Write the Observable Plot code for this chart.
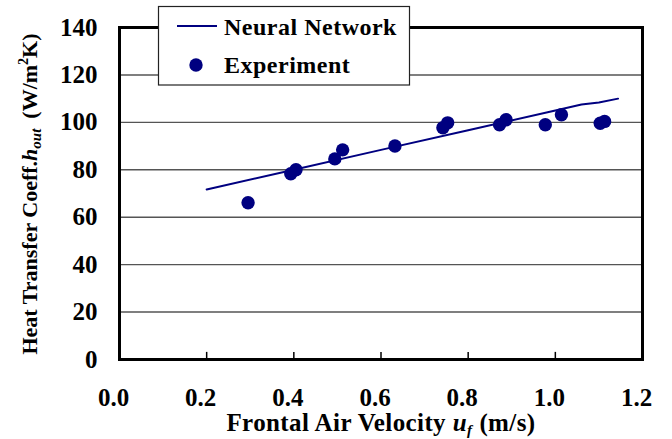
<!DOCTYPE html>
<html><head><meta charset="utf-8">
<script src="https://cdn.jsdelivr.net/npm/d3@7"></script>
<script src="https://cdn.jsdelivr.net/npm/@observablehq/plot@0.6"></script>
<style>body{margin:0;background:#fff} svg{display:block}</style>
</head><body><div id="chart"></div>
<script>
// Neural network prediction (line)
const nnVelocity = [0.2, 0.4, 0.6, 0.8, 1.0, 1.06, 1.10, 1.144];
const nnCoeff    = [71.7, 80.0, 88.4, 96.7, 105.0, 107.5, 108.4, 110.0];
// Experiment (dots)
const expVelocity = [0.295, 0.393, 0.405, 0.494, 0.512, 0.632, 0.742, 0.753, 0.872, 0.887, 0.977, 1.014, 1.103, 1.113];
const expCoeff    = [66.1, 78.3, 80.0, 84.6, 88.4, 90.0, 97.7, 99.8, 99.0, 101.1, 99.0, 103.2, 99.6, 100.4];
// Axes
const xTicks = [0, 0.2, 0.4, 0.6, 0.8, 1.0, 1.2];
const xInnerTicks = [0.2, 0.4, 0.6, 0.8, 1.0];
const yTicks = [0, 20, 40, 60, 80, 100, 120, 140];
const seriesNames = ["Neural Network", "Experiment"];

const nn = nnVelocity.map((v, i) => ({x: v, y: nnCoeff[i]}));
const exp = expVelocity.map((v, i) => ({x: v, y: expCoeff[i]}));

const font = "Liberation Serif, DejaVu Serif, Times New Roman, serif";
const navy = "#000080";

const plot = Plot.plot({
  width: 672, height: 439,
  marginLeft: 119, marginRight: 30, marginTop: 27, marginBottom: 80,
  style: {fontFamily: font, fontWeight: "bold", fontSize: "24px", background: "white", color: "black"},
  x: {domain: [0, 1.2], label: null},
  y: {domain: [0, 140], label: null},
  marks: [
    Plot.ruleY(yTicks.slice(1, -1), {stroke: "#555", strokeWidth: 1.4}),
    Plot.ruleX(xInnerTicks, {y1: 0, y2: 3, stroke: "black", strokeWidth: 1.5}),
    Plot.line(nn, {x: "x", y: "y", stroke: navy, strokeWidth: 2}),
    Plot.dot(exp, {x: "x", y: "y", r: 6.7, fill: navy, stroke: null}),
    Plot.frame({stroke: "black", strokeWidth: 3}),
    Plot.axisX({ticks: xTicks, tickSize: 0, tickPadding: 29, dx: -6, tickFormat: d3.format(".1f"), label: null, fontSize: 25, fontFamily: font, fontWeight: "bold"}),
    Plot.axisY({ticks: yTicks, tickSize: 0, tickPadding: 22, label: null, fontSize: 25, fontFamily: font, fontWeight: "bold"})
  ]
});

const svg = d3.select(plot);
const g = svg.append("g").attr("font-family", font).attr("font-weight", "bold").attr("fill", "black");

// Y axis title
const yt = g.append("text").attr("transform", "translate(37,194) rotate(-90)")
  .attr("text-anchor", "middle").attr("font-size", 22);
yt.append("tspan").text("Heat Transfer Coeff.");
yt.append("tspan").attr("font-style", "italic").text("h");
yt.append("tspan").attr("font-style", "italic").attr("font-size", 15).attr("dy", 4).text("out");
yt.append("tspan").attr("dy", -4).attr("dx", 10).text("(W/m");
yt.append("tspan").attr("font-size", 14).attr("dy", -9).text("2");
yt.append("tspan").attr("dy", 9).text("K)");

// X axis title
const xt = g.append("text").attr("x", 381).attr("y", 431)
  .attr("text-anchor", "middle").attr("font-size", 25).attr("letter-spacing", 0.4);
xt.append("tspan").text("Frontal Air Velocity ");
xt.append("tspan").attr("font-style", "italic").text("u");
xt.append("tspan").attr("font-style", "italic").attr("font-size", 15).attr("dy", 3.5).text("f");
xt.append("tspan").attr("dy", -3.5).attr("dx", 7).text("(m/s)");

// Legend
const lg = svg.append("g").attr("font-family", font).attr("font-weight", "bold").attr("text-anchor", "start");
lg.append("rect").attr("x", 158.5).attr("y", 6.5).attr("width", 251).attr("height", 78.5)
  .attr("fill", "white").attr("stroke", "#222").attr("stroke-width", 1.2);
lg.append("line").attr("x1", 177).attr("x2", 217).attr("y1", 26).attr("y2", 26)
  .attr("stroke", navy).attr("stroke-width", 2);
lg.append("circle").attr("cx", 196).attr("cy", 65).attr("r", 6.7).attr("fill", navy);
lg.append("text").attr("x", 224).attr("y", 35).attr("font-size", 24).attr("letter-spacing", 0.5).attr("text-anchor", "start").text(seriesNames[0]);
lg.append("text").attr("x", 224).attr("y", 73).attr("font-size", 24).attr("letter-spacing", 0.5).attr("text-anchor", "start").text(seriesNames[1]);

document.getElementById("chart").appendChild(plot);
</script>
</body></html>
